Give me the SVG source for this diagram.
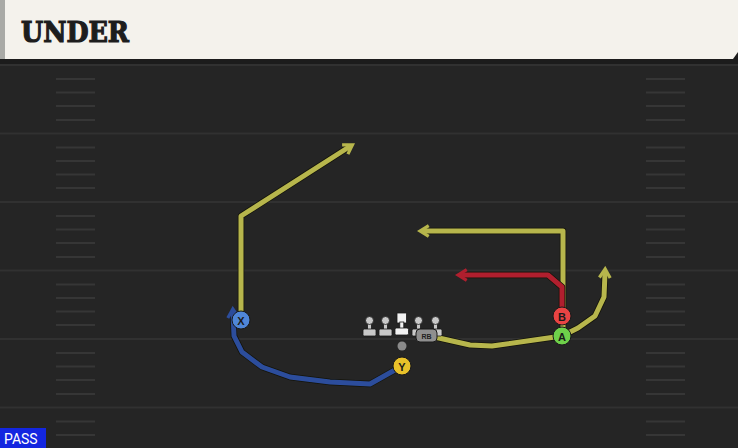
<svg xmlns="http://www.w3.org/2000/svg" width="738" height="448" viewBox="0 0 738 448">
<style>
.yard{stroke:#313131;stroke-width:2}
.hash{stroke:#363636;stroke-width:2}
.rt{fill:none;stroke-width:5;stroke-linejoin:round;stroke-linecap:round}
.out{stroke:#14140a;stroke-width:6.5}
.yel{stroke:#b7b64c}
.red{stroke:#b01f2e}
.blu{stroke:#2c4d9c}
.lbl{font-family:"Liberation Sans",Arial,sans-serif;font-weight:bold;font-size:11px;text-anchor:middle;fill:#1a1a1a}
</style>
<defs>
<marker id="ay" viewBox="0 0 10 10" refX="5" refY="5" markerWidth="2.7" markerHeight="2.7" orient="auto" markerUnits="strokeWidth">
<path d="M1.5,1 L8,5 L1.5,9" fill="none" stroke="#b7b64c" stroke-width="2.4"/>
</marker>
<marker id="ar" viewBox="0 0 10 10" refX="5" refY="5" markerWidth="2.7" markerHeight="2.7" orient="auto" markerUnits="strokeWidth">
<path d="M1.5,1 L8,5 L1.5,9" fill="none" stroke="#b01f2e" stroke-width="2.4"/>
</marker>
<marker id="ab" viewBox="0 0 10 10" refX="5" refY="5" markerWidth="2.7" markerHeight="2.7" orient="auto" markerUnits="strokeWidth">
<path d="M1.5,1 L8,5 L1.5,9" fill="none" stroke="#2c4d9c" stroke-width="2.4"/>
</marker>
</defs>
<rect width="738" height="448" fill="#252525"/>
<rect x="0" y="58" width="738" height="6" fill="#1c1c1c"/>
<g id="field">
<line class="yard" x1="0" y1="65" x2="738" y2="65"/>
<line class="yard" x1="0" y1="133.5" x2="738" y2="133.5"/>
<line class="yard" x1="0" y1="202" x2="738" y2="202"/>
<line class="yard" x1="0" y1="270.5" x2="738" y2="270.5"/>
<line class="yard" x1="0" y1="339" x2="738" y2="339"/>
<line class="yard" x1="0" y1="407.5" x2="738" y2="407.5"/>
<g id="hashL">
<line class="hash" x1="56" y1="79" x2="95" y2="79"/><line class="hash" x1="56" y1="92.5" x2="95" y2="92.5"/><line class="hash" x1="56" y1="106" x2="95" y2="106"/><line class="hash" x1="56" y1="120" x2="95" y2="120"/>
<line class="hash" x1="56" y1="147.5" x2="95" y2="147.5"/><line class="hash" x1="56" y1="161" x2="95" y2="161"/><line class="hash" x1="56" y1="174.5" x2="95" y2="174.5"/><line class="hash" x1="56" y1="188" x2="95" y2="188"/>
<line class="hash" x1="56" y1="216" x2="95" y2="216"/><line class="hash" x1="56" y1="229.5" x2="95" y2="229.5"/><line class="hash" x1="56" y1="243" x2="95" y2="243"/><line class="hash" x1="56" y1="257" x2="95" y2="257"/>
<line class="hash" x1="56" y1="284.5" x2="95" y2="284.5"/><line class="hash" x1="56" y1="298" x2="95" y2="298"/><line class="hash" x1="56" y1="311.5" x2="95" y2="311.5"/><line class="hash" x1="56" y1="325" x2="95" y2="325"/>
<line class="hash" x1="56" y1="353" x2="95" y2="353"/><line class="hash" x1="56" y1="366.5" x2="95" y2="366.5"/><line class="hash" x1="56" y1="380" x2="95" y2="380"/><line class="hash" x1="56" y1="394" x2="95" y2="394"/>
<line class="hash" x1="56" y1="421.5" x2="95" y2="421.5"/><line class="hash" x1="56" y1="435" x2="95" y2="435"/>
</g>
<use href="#hashL" x="590"/>
</g>
<g id="header">
<rect x="0" y="0" width="738" height="59" fill="#f4f2ec"/>
<rect x="0" y="0" width="5" height="59" fill="#a9aaa6"/>
<path d="M733,59 L738,52 L738,59 Z" fill="#1c1c1c"/>
<text x="21" y="42" font-family="DejaVu Serif,serif" font-weight="bold" font-size="27" fill="#1d1d1d" stroke="#1d1d1d" stroke-width="1.2" textLength="108" lengthAdjust="spacingAndGlyphs">UNDER</text>
</g>
<g id="connectors">
<polyline class="rt out" points="241,320 241,216 349,147"/>
<polyline class="rt yel" points="241,320 241,216 349,147" marker-end="url(#ay)"/>
<polyline class="rt out" points="563,336 563,231 424,231"/>
<polyline class="rt yel" points="563,336 563,231 424,231" marker-end="url(#ay)"/>
<polyline class="rt out" points="430,336 470,345 492,346 562,336 578,328 595,316 604,297 605,273"/>
<polyline class="rt yel" points="430,336 470,345 492,346 562,336 578,328 595,316 604,297 605,273" marker-end="url(#ay)"/>
<polyline class="rt out" points="562,316 562,287 548,275 462,275"/>
<polyline class="rt red" points="562,316 562,287 548,275 462,275" marker-end="url(#ar)"/>
<polyline class="rt out" points="402,366 370,384 330,382 290,377 262,367 242,352 234,336 233,313"/>
<polyline class="rt blu" points="402,366 370,384 330,382 290,377 262,367 242,352 234,336 233,313" marker-end="url(#ab)"/>
</g>
<g id="line">
<g id="lg" fill="#c9c9c9" stroke="#1a1a1a" stroke-width="0.8">
<rect x="367.5" y="321" width="4" height="9"/><circle cx="369.5" cy="320.5" r="4"/><rect x="363" y="329" width="13" height="7" rx="1.5"/>
</g>
<use href="#lg" x="16"/>
<g fill="#f2f2f2" stroke="#1a1a1a" stroke-width="0.8">
<rect x="397" y="313" width="9.5" height="10"/><rect x="399.8" y="322" width="4" height="7"/><rect x="395" y="328" width="13.5" height="7" rx="1.5"/>
</g>
<use href="#lg" x="49"/>
<use href="#lg" x="66"/>
</g>
<g id="RB">
<rect x="416" y="329" width="21" height="13" rx="4" fill="#8f8f8f" stroke="#1a1a1a" stroke-width="1"/>
<text x="426.5" y="338.5" font-family="Liberation Sans,Arial,sans-serif" font-weight="bold" font-size="7" text-anchor="middle" fill="#222">RB</text>
</g>
<g id="QB"><circle cx="402" cy="346" r="4.5" fill="#8a8a8a"/></g>
<g id="Y">
<circle cx="402" cy="366" r="9" fill="#e8c12a" stroke="#1a1a1a" stroke-width="1"/>
<text class="lbl" x="402" y="370.5">Y</text>
</g>
<g id="X">
<circle cx="241" cy="320" r="9" fill="#4f86d8" stroke="#1a1a1a" stroke-width="1"/>
<text class="lbl" x="241" y="324.5">X</text>
</g>
<g id="B">
<circle cx="562" cy="316" r="9" fill="#e94444" stroke="#1a1a1a" stroke-width="1"/>
<text class="lbl" x="562" y="320.5">B</text>
</g>
<g id="A">
<circle cx="562" cy="336" r="9" fill="#6ed04a" stroke="#1a1a1a" stroke-width="1"/>
<text class="lbl" x="562" y="340.5">A</text>
</g>
<g id="pass">
<rect x="0" y="428" width="46" height="20" fill="#1326e0"/>
<text x="4" y="444" font-family="Roboto,Liberation Sans,sans-serif" font-size="14" fill="#ffffff">PASS</text>
</g>
</svg>
